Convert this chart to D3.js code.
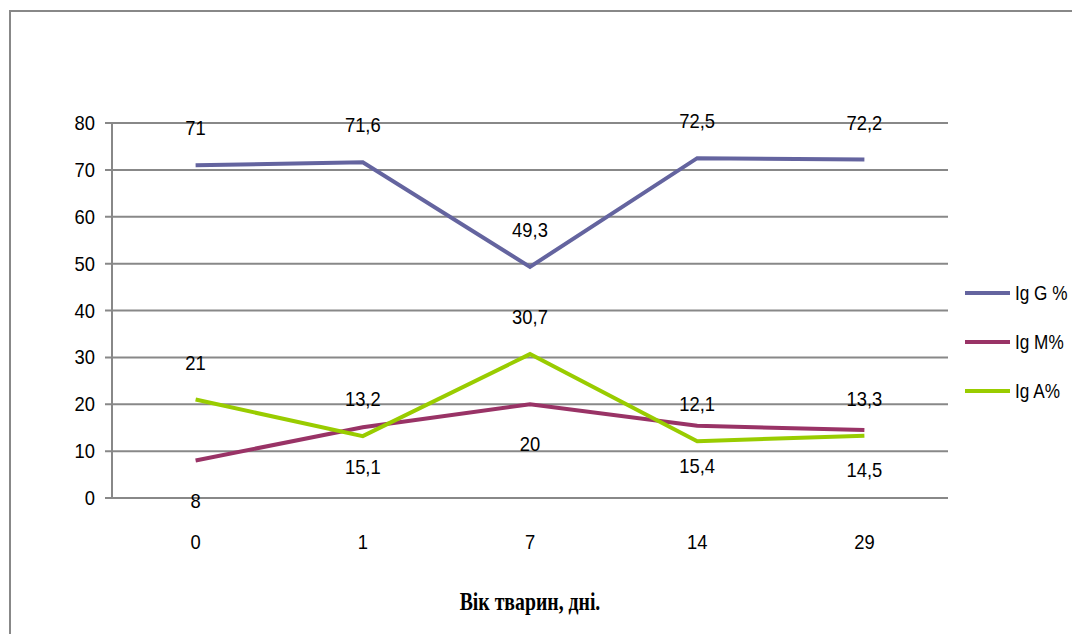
<!DOCTYPE html>
<html><head><meta charset="utf-8">
<script src="https://cdn.jsdelivr.net/npm/d3@7/dist/d3.min.js"></script>
<style>body{margin:0;background:#fff}svg{display:block}</style>
</head><body>
<svg id="c" width="1072" height="634"></svg>
<script>
const categories = ["0","1","7","14","29"];
const seriesNames = ["Ig G %","Ig M%","Ig A%"];
const igG = [71, 71.6, 49.3, 72.5, 72.2];
const igM = [8, 15.1, 20, 15.4, 14.5];
const igA = [21, 13.2, 30.7, 12.1, 13.3];
const yTicks = [0,10,20,30,40,50,60,70,80];
const colors = ["#64649f","#993366","#99cc00"];
const labelPos = ["above","below","above"];
const xTitle = "Вік тварин, дні.";

(function(){
const svg = d3.select("#c");
const pL=112, pR=948, pT=123, pB=498;
const font = "'Liberation Sans',Arial,sans-serif";

svg.append("rect").attr("x",10).attr("y",11).attr("width",1100).attr("height",700)
  .attr("fill","none").attr("stroke","#888").attr("stroke-width",2);

const x = d3.scaleBand().domain(categories).range([pL,pR]);
const y = d3.scaleLinear().domain([0,80]).range([pB,pT]);

svg.append("g").selectAll("line").data(yTicks).join("line")
  .attr("x1",pL-7).attr("x2",pR).attr("y1",d=>y(d)).attr("y2",d=>y(d))
  .attr("stroke","#888").attr("stroke-width",2);
svg.append("line").attr("x1",pL).attr("x2",pL).attr("y1",pT).attr("y2",pB)
  .attr("stroke","#888").attr("stroke-width",2);

svg.append("g").selectAll("text").data(yTicks).join("text")
  .attr("transform",d=>`translate(${pL-17},${y(d)}) scale(0.92,1)`).attr("dy","0.35em").attr("text-anchor","end")
  .attr("font-family",font).attr("font-size",20).attr("fill","#000").text(d=>d);
svg.append("g").selectAll("text").data(categories).join("text")
  .attr("transform",d=>`translate(${x(d)+x.bandwidth()/2},542) scale(0.92,1)`).attr("dy","0.35em").attr("text-anchor","middle")
  .attr("font-family",font).attr("font-size",20).attr("fill","#000").text(d=>d);

const data = [igG, igM, igA];
const line = d3.line().x((d,i)=>x(categories[i])+x.bandwidth()/2).y(d=>y(d));
data.forEach((s,k)=>{
  svg.append("path").datum(s).attr("d",line).attr("fill","none")
    .attr("stroke",colors[k]).attr("stroke-width",4).attr("stroke-linejoin","miter");
});
data.forEach((s,k)=>{
  svg.append("g").selectAll("text").data(s).join("text")
    .attr("transform",(d,i)=>`translate(${x(categories[i])+x.bandwidth()/2},${y(d)+(labelPos[k]==="above"?-37:40)}) scale(0.92,1)`)
    .attr("dy","0.35em")
    .attr("text-anchor","middle").attr("font-family",font).attr("font-size",20).attr("fill","#000")
    .text(d=>String(d).replace(".",","));
});

seriesNames.forEach((n,k)=>{
  const ly = 293 + k*49;
  svg.append("line").attr("x1",965).attr("x2",1010).attr("y1",ly).attr("y2",ly)
    .attr("stroke",colors[k]).attr("stroke-width",4);
  svg.append("text").attr("transform",`translate(1015,${ly}) scale(0.86,1)`).attr("dy","0.35em")
    .attr("font-family",font).attr("font-size",20).attr("fill","#000").text(n);
});

svg.append("text").attr("transform","translate(530,610) scale(0.76,1)").attr("text-anchor","middle")
  .attr("font-family","'Liberation Serif','Times New Roman',serif").attr("font-weight","bold")
  .attr("font-size",26).attr("fill","#000").text(xTitle);
})();
</script>
</body></html>
